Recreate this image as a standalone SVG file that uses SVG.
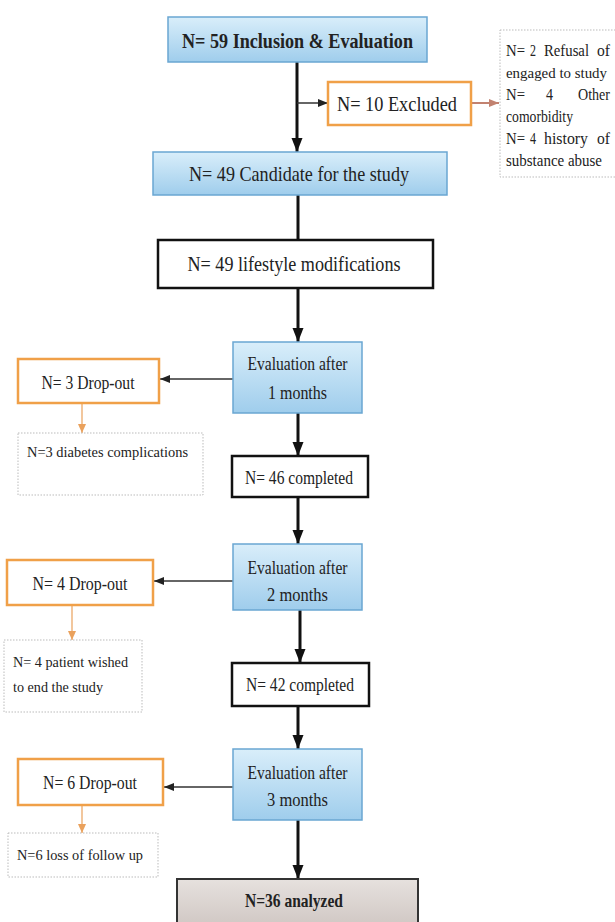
<svg xmlns="http://www.w3.org/2000/svg" width="615" height="922" viewBox="0 0 615 922" font-family="'Liberation Serif','Times New Roman','DejaVu Serif',serif">
<defs>
<linearGradient id="blue" x1="0" y1="0" x2="0" y2="1">
<stop offset="0" stop-color="#d9eefa"/>
<stop offset="1" stop-color="#9fcdec"/>
</linearGradient>
<linearGradient id="gray" x1="0" y1="0" x2="0" y2="1">
<stop offset="0" stop-color="#e6e1de"/>
<stop offset="1" stop-color="#cfc6c2"/>
</linearGradient>
<marker id="ab" markerUnits="userSpaceOnUse" markerWidth="14" markerHeight="14" refX="14" refY="7" orient="auto">
<path d="M0,1.5 L14,7 L0,12.5 Z" fill="#111"/>
</marker>
<marker id="as" markerUnits="userSpaceOnUse" markerWidth="10" markerHeight="10" refX="10" refY="5" orient="auto">
<path d="M0,1 L10,5 L0,9 Z" fill="#222"/>
</marker>
<marker id="ao" markerUnits="userSpaceOnUse" markerWidth="9" markerHeight="9" refX="9" refY="4.5" orient="auto">
<path d="M0,0.5 L9,4.5 L0,8.5 Z" fill="#eaa15c"/>
</marker>
<marker id="ar" markerUnits="userSpaceOnUse" markerWidth="10" markerHeight="10" refX="10" refY="5" orient="auto">
<path d="M0,1 L10,5 L0,9 Z" fill="#c28270"/>
</marker>
</defs>
<style>
text{font-family:'Liberation Serif','Times New Roman','DejaVu Serif',serif;fill:#222;}
.c{text-anchor:middle;}
.bl{fill:url(#blue);stroke:#6aa6d2;stroke-width:1.5;}
.or{fill:#fff;stroke:#f0a048;stroke-width:2.5;}
.bk{fill:#fff;stroke:#111;stroke-width:2.5;}
.dt{fill:#fff;stroke:#bbb;stroke-width:1;stroke-dasharray:1.5 1.5;}
.gr{fill:url(#gray);stroke:#333;stroke-width:2;}
.f21{font-size:21px;}
.f19{font-size:19px;}
.f17{font-size:16.5px;}
.f15{font-size:15.5px;}
.b{font-weight:bold;}
.main{stroke:#111;stroke-width:3;fill:none;}
.side{stroke:#333;stroke-width:1.5;fill:none;}
.ol{stroke:#eaa15c;stroke-width:1.2;fill:none;}
.rl{stroke:#c28270;stroke-width:2;fill:none;}
</style>

<g id="connectors">
<line class="main" x1="297" y1="62" x2="297" y2="152" marker-end="url(#ab)"/>
<line class="side" x1="297" y1="103" x2="328" y2="103" marker-end="url(#as)"/>
<line class="rl" x1="471" y1="103" x2="499" y2="103" marker-end="url(#ar)"/>
<line class="main" x1="298" y1="195" x2="298" y2="240"/>
<line class="main" x1="298" y1="288" x2="298" y2="342" marker-end="url(#ab)"/>
<line class="side" x1="233" y1="379" x2="160" y2="379" marker-end="url(#as)"/>
<line class="ol" x1="82" y1="404" x2="82" y2="433" marker-end="url(#ao)"/>
<line class="main" x1="298" y1="413" x2="298" y2="456" marker-end="url(#ab)"/>
<line class="main" x1="298" y1="497" x2="298" y2="544" marker-end="url(#ab)"/>
<line class="side" x1="233" y1="581" x2="154" y2="581" marker-end="url(#as)"/>
<line class="ol" x1="72" y1="606" x2="72" y2="640" marker-end="url(#ao)"/>
<line class="main" x1="300" y1="610" x2="300" y2="663" marker-end="url(#ab)"/>
<line class="main" x1="298" y1="706" x2="298" y2="749" marker-end="url(#ab)"/>
<line class="side" x1="233" y1="787" x2="164" y2="787" marker-end="url(#as)"/>
<line class="ol" x1="82" y1="806" x2="82" y2="833" marker-end="url(#ao)"/>
<line class="main" x1="298" y1="820" x2="298" y2="879" marker-end="url(#ab)"/>
</g>

<g id="n59">
<rect class="bl" x="168" y="17" width="259" height="45"/>
<text class="c f21 b" x="297.5" y="47.5" textLength="231" lengthAdjust="spacingAndGlyphs">N= 59 Inclusion &amp; Evaluation</text>
</g>
<g id="excluded">
<rect class="or" x="328" y="82" width="143" height="43"/>
<text class="c f21" x="397" y="111" textLength="120" lengthAdjust="spacingAndGlyphs">N= 10 Excluded</text>
</g>
<g id="reasons">
<rect class="dt" x="500" y="30" width="125" height="147"/>
<text class="f17" y="56"><tspan x="506" textLength="19" lengthAdjust="spacingAndGlyphs">N=</tspan><tspan x="530" textLength="6" lengthAdjust="spacingAndGlyphs">2</tspan><tspan x="544" textLength="45" lengthAdjust="spacingAndGlyphs">Refusal</tspan><tspan x="597" textLength="13" lengthAdjust="spacingAndGlyphs">of</tspan></text>
<text x="506" y="78" font-size="15" textLength="101" lengthAdjust="spacingAndGlyphs">engaged to study</text>
<text class="f17" y="100"><tspan x="506" textLength="19" lengthAdjust="spacingAndGlyphs">N=</tspan><tspan x="546" textLength="7" lengthAdjust="spacingAndGlyphs">4</tspan><tspan x="578" textLength="32" lengthAdjust="spacingAndGlyphs">Other</tspan></text>
<text class="f17" x="506" y="122" textLength="67" lengthAdjust="spacingAndGlyphs">comorbidity</text>
<text class="f17" y="144"><tspan x="506" textLength="19" lengthAdjust="spacingAndGlyphs">N=</tspan><tspan x="530" textLength="6" lengthAdjust="spacingAndGlyphs">4</tspan><tspan x="544" textLength="44" lengthAdjust="spacingAndGlyphs">history</tspan><tspan x="597" textLength="13" lengthAdjust="spacingAndGlyphs">of</tspan></text>
<text class="f17" x="506" y="166" textLength="96" lengthAdjust="spacingAndGlyphs">substance abuse</text>
</g>
<g id="candidate">
<rect class="bl" x="153" y="152" width="294" height="43"/>
<text class="c f21" x="299" y="180.5" textLength="220" lengthAdjust="spacingAndGlyphs">N= 49 Candidate for the study</text>
</g>
<g id="lifestyle">
<rect class="bk" x="158" y="240" width="275" height="48"/>
<text class="c f21" x="294" y="271" textLength="213" lengthAdjust="spacingAndGlyphs">N= 49 lifestyle modifications</text>
</g>
<g id="eval1">
<rect class="bl" x="233" y="342" width="129" height="71"/>
<text class="c f19" x="297.5" y="369.5" textLength="100" lengthAdjust="spacingAndGlyphs">Evaluation after</text>
<text class="c f19" x="297.5" y="398.5" textLength="59" lengthAdjust="spacingAndGlyphs">1 months</text>
</g>
<g id="drop1">
<rect class="or" x="18" y="359" width="141" height="44"/>
<text class="c f19" x="88" y="388.5" textLength="93" lengthAdjust="spacingAndGlyphs">N= 3 Drop-out</text>
</g>
<g id="reason1">
<rect class="dt" x="18" y="433" width="185" height="62"/>
<text class="f15" x="27" y="457" textLength="161" lengthAdjust="spacingAndGlyphs">N=3 diabetes complications</text>
</g>
<g id="completed46">
<rect class="bk" x="232" y="456" width="136" height="41"/>
<text class="c f19" x="299" y="483.5" textLength="108" lengthAdjust="spacingAndGlyphs">N= 46 completed</text>
</g>
<g id="eval2">
<rect class="bl" x="233" y="544" width="129" height="66"/>
<text class="c f19" x="297.5" y="573.5" textLength="100" lengthAdjust="spacingAndGlyphs">Evaluation after</text>
<text class="c f19" x="297.5" y="600.5" textLength="61" lengthAdjust="spacingAndGlyphs">2 months</text>
</g>
<g id="drop2">
<rect class="or" x="7" y="560" width="146" height="45"/>
<text class="c f19" x="80" y="589.5" textLength="95" lengthAdjust="spacingAndGlyphs">N= 4 Drop-out</text>
</g>
<g id="reason2">
<rect class="dt" x="4" y="640" width="138" height="72"/>
<text class="f15" x="13" y="667" textLength="115" lengthAdjust="spacingAndGlyphs">N= 4 patient wished</text>
<text class="f15" x="13" y="692" textLength="90" lengthAdjust="spacingAndGlyphs">to end the study</text>
</g>
<g id="completed42">
<rect class="bk" x="232" y="663" width="137" height="43"/>
<text class="c f19" x="300" y="690.5" textLength="108" lengthAdjust="spacingAndGlyphs">N= 42 completed</text>
</g>
<g id="eval3">
<rect class="bl" x="233" y="749" width="129" height="71"/>
<text class="c f19" x="297.5" y="778.5" textLength="100" lengthAdjust="spacingAndGlyphs">Evaluation after</text>
<text class="c f19" x="297.5" y="805.5" textLength="61" lengthAdjust="spacingAndGlyphs">3 months</text>
</g>
<g id="drop3">
<rect class="or" x="18" y="759" width="145" height="46"/>
<text class="c f19" x="90" y="788.5" textLength="94" lengthAdjust="spacingAndGlyphs">N= 6 Drop-out</text>
</g>
<g id="reason3">
<rect class="dt" x="8" y="833" width="150" height="44"/>
<text class="f15" x="17" y="860" textLength="126" lengthAdjust="spacingAndGlyphs">N=6 loss of follow up</text>
</g>
<g id="analyzed">
<rect class="gr" x="177" y="879" width="241" height="50"/>
<text class="c f19 b" x="294" y="906.5" textLength="98" lengthAdjust="spacingAndGlyphs">N=36 analyzed</text>
</g>
</svg>
